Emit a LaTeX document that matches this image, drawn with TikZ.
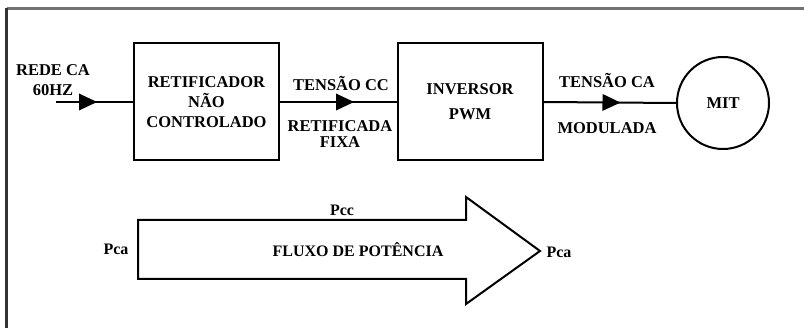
\documentclass[tikz,border=0pt]{standalone}
\usepackage{fontspec}
\setmainfont{Liberation Serif}
\usetikzlibrary{decorations.markings}
\begin{document}
\begin{tikzpicture}[x=1pt,y=-1pt,
  lbl/.style={font=\bfseries\fontsize{16.5}{20}\selectfont, inner sep=0pt, align=center},
  blk/.style={draw, line width=2pt, minimum width=145pt, minimum height=117pt, inner sep=0pt,
    font=\bfseries\fontsize{16.5}{20}\selectfont, align=center},
  wire/.style={line width=2pt},
  midtip/.style={postaction={decorate,decoration={markings,
     mark=at position #1 with {\fill (-18,-8.5) -- (0,0) -- (-18,8.5) -- cycle;}}}},
  plbl/.style={font=\bfseries\fontsize{16}{19}\selectfont, inner sep=0pt}
]
\useasboundingbox (0,0) rectangle (804,328);
% frame
\coordinate (fTL) at (6.5,8.5);
\coordinate (fTR) at (804,8.5);
\coordinate (fBL) at (6.5,328);
\draw[line width=2.5pt, black!55] (fTL) -- (fTR);
\draw[line width=2.5pt, black!80] (fTL) -- (fBL);

% blocks
\node[blk] (ret) at (206.5,102) {RETIFICADOR\\NÃO\\CONTROLADO};
\node[blk, font=\bfseries\fontsize{16.5}{25}\selectfont] (inv) at (470,102) {INVERSOR\\PWM};
\node[draw, circle, line width=2pt, minimum size=92pt, inner sep=0pt,
      font=\bfseries\fontsize{16.5}{20}\selectfont] (mit) at (723,103) {MIT};

% connectors
\coordinate (in) at (56,102);
\draw[wire, midtip=41pt] (in) -- (ret.west);
\draw[wire, midtip=74pt] (ret.east) -- (inv.west);
\draw[wire, midtip=77pt] (inv.east) -- (mit.west);

% labels
\node[lbl] (rede) at (53,80.5) {REDE CA\\60HZ};
\node[lbl] (tcc) at (341,83) {TENSÃO CC};
\node[lbl, font=\bfseries\fontsize{16.5}{16}\selectfont] (rf) at (340,134) {RETIFICADA\\FIXA};
\node[lbl] (tca) at (607,80) {TENSÃO CA};
\node[lbl] (mod) at (607,128) {MODULADA};

% power flow arrow
\coordinate (a1) at (138,220);
\coordinate (a2) at (466,220);
\coordinate (a3) at (466,197);
\coordinate (a4) at (540,251);
\coordinate (a5) at (466,304);
\coordinate (a6) at (466,279);
\coordinate (a7) at (138,279);
\draw[line width=2pt, line join=miter] (a1) -- (a2) -- (a3) -- (a4) -- (a5) -- (a6) -- (a7) -- cycle;
\node[plbl] (fluxo) at (358,250) {FLUXO DE POTÊNCIA};
\node[plbl] (pcc) at (342,210) {Pcc};
\node[plbl] (pca1) at (116,249) {Pca};
\node[plbl] (pca2) at (559,252) {Pca};
\end{tikzpicture}
\end{document}
